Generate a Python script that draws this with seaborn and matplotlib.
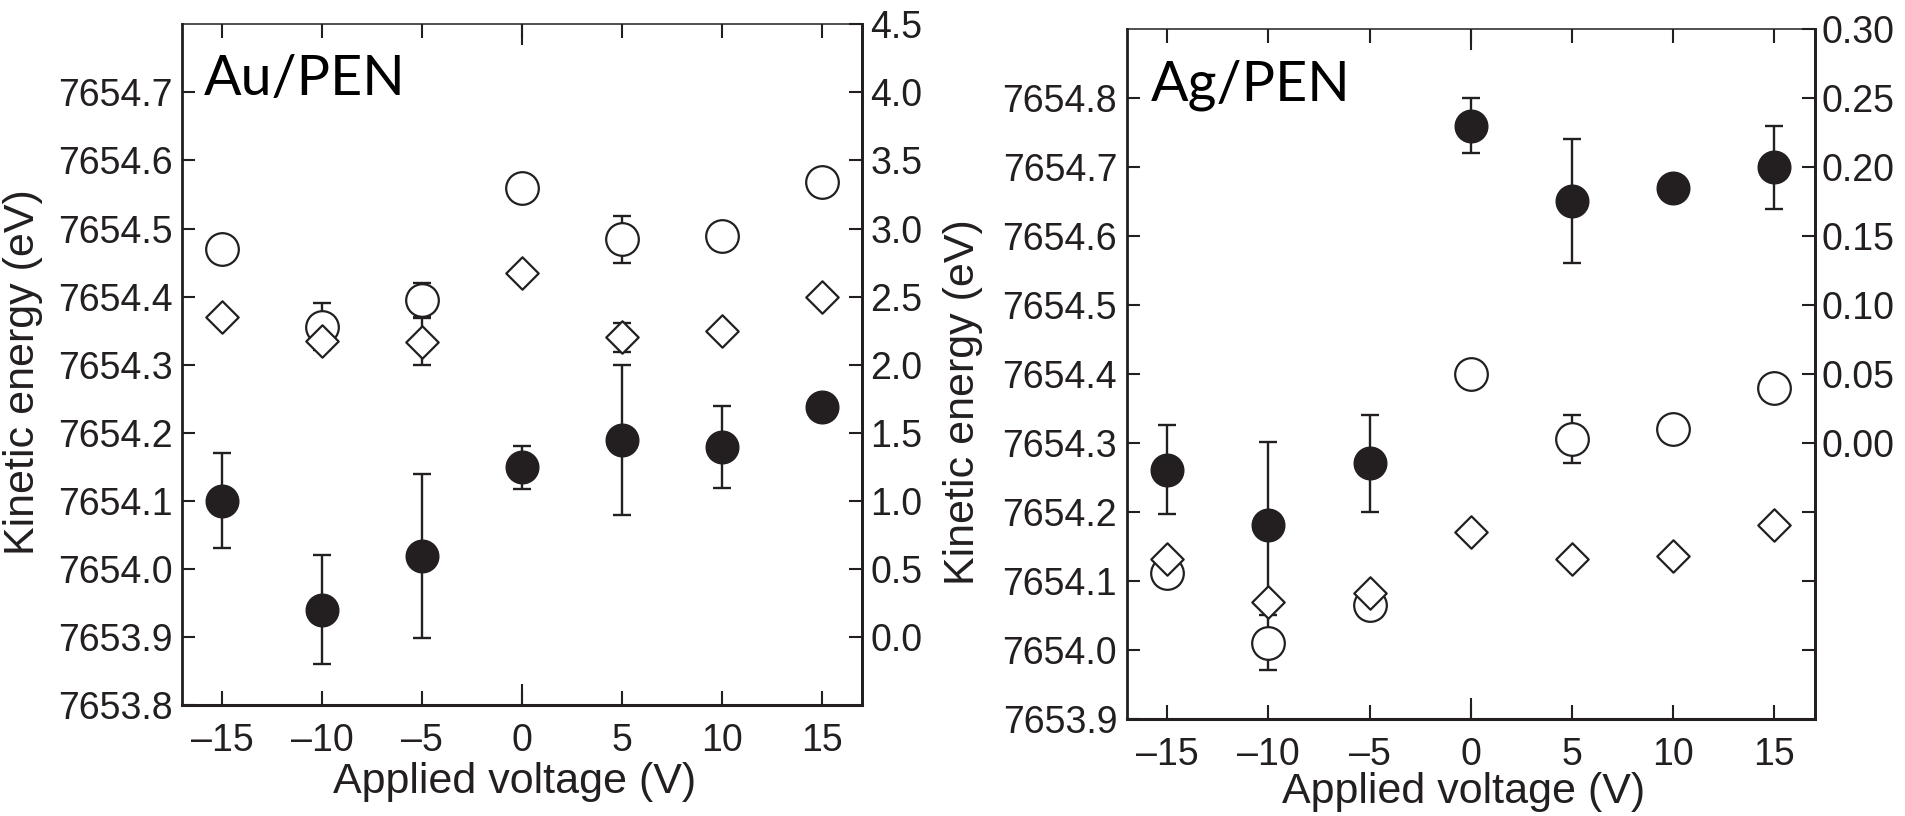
import numpy as np
import pandas as pd
import matplotlib
matplotlib.use("Agg")
import matplotlib.pyplot as plt
import seaborn as sns

# ---------------- data ----------------
voltage = [-15, -10, -5, 0, 5, 10, 15]
voltage_labels = ["\u201315", "\u201310", "\u20135", "0", "5", "10", "15"]

# Au/PEN panel (left axis, eV)
au_open = [7654.470, 7654.356, 7654.395, 7654.559, 7654.484, 7654.489, 7654.569]
au_open_err = [0, 0.034, 0.025, 0, 0.035, 0, 0]
au_diamond = [7654.370, 7654.335, 7654.334, 7654.435, 7654.340, 7654.349, 7654.400]
au_diamond_err = [0, 0, 0.034, 0, 0.021, 0, 0]
au_filled = [7654.100, 7653.940, 7654.019, 7654.149, 7654.189, 7654.179, 7654.238]
au_filled_err = [0.070, 0.080, 0.120, 0.031, 0.110, 0.060, 0]

au_yticks = [7653.8, 7653.9, 7654.0, 7654.1, 7654.2, 7654.3, 7654.4, 7654.5, 7654.6, 7654.7]
au_yticklabels = ["7653.8", "7653.9", "7654.0", "7654.1", "7654.2", "7654.3",
                  "7654.4", "7654.5", "7654.6", "7654.7"]
au_rticks = [0.0, 0.5, 1.0, 1.5, 2.0, 2.5, 3.0, 3.5, 4.0, 4.5]
au_rticklabels = ["0.0", "0.5", "1.0", "1.5", "2.0", "2.5", "3.0", "3.5", "4.0", "4.5"]

# Ag/PEN panel (left axis, eV)
ag_open = [7654.112, 7654.011, 7654.066, 7654.400, 7654.306, 7654.320, 7654.380]
ag_open_err = [0, 0.040, 0, 0, 0.035, 0, 0]
ag_diamond = [7654.132, 7654.070, 7654.083, 7654.171, 7654.132, 7654.137, 7654.181]
ag_diamond_err = [0, 0, 0, 0, 0, 0, 0]
ag_filled = [7654.262, 7654.182, 7654.271, 7654.760, 7654.651, 7654.670, 7654.700]
ag_filled_err = [0.065, 0.120, 0.070, 0.040, 0.090, 0, 0.060]

ag_yticks = [7653.9, 7654.0, 7654.1, 7654.2, 7654.3, 7654.4, 7654.5, 7654.6, 7654.7, 7654.8]
ag_yticklabels = ["7653.9", "7654.0", "7654.1", "7654.2", "7654.3", "7654.4",
                  "7654.5", "7654.6", "7654.7", "7654.8"]
ag_rticks = [-0.15, -0.10, -0.05, 0.00, 0.05, 0.10, 0.15, 0.20, 0.25, 0.30]
ag_rticklabels = ["", "", "", "0.00", "0.05", "0.10", "0.15", "0.20", "0.25", "0.30"]

# ---------------- style ----------------
sns.set_theme(style="white")
plt.rcParams["font.family"] = ["Liberation Sans", "DejaVu Sans"]

INK = "#231f20"
TICK_FS = 27
LABEL_FS = 31
CIRCLE_S = 23.5 ** 2
DIAMOND_S = 16.5 ** 2

fig = plt.figure(figsize=(19.05, 8.16), dpi=100)
ax_au = fig.add_axes([0.0958, 0.1360, 0.3567, 0.8342])
ax_ag = fig.add_axes([0.5914, 0.1185, 0.3613, 0.8456])


def errbars(ax, x, y, e, z):
    x = np.asarray(x, float)
    y = np.asarray(y, float)
    e = np.asarray(e, float)
    m = e > 0
    if m.any():
        ax.errorbar(x[m], y[m], yerr=e[m], fmt="none", ecolor=INK,
                    elinewidth=1.7, capsize=6.5, capthick=1.7, zorder=z)


def panel(ax, open_v, open_e, dia_v, dia_e, fill_v, fill_e,
          ylim, yticks, yticklabels, rlim, rticks, rticklabels,
          name, name_xy, ylabel_xy, xlabel_xy, rpad):
    df = pd.DataFrame({"V": voltage, "open": open_v, "dia": dia_v, "fill": fill_v})

    errbars(ax, voltage, open_v, open_e, 1.5)
    sns.scatterplot(data=df, x="V", y="open", ax=ax, marker="o", s=CIRCLE_S,
                    color="white", edgecolor=INK, linewidth=1.6, zorder=2, legend=False)
    errbars(ax, voltage, fill_v, fill_e, 2.5)
    sns.scatterplot(data=df, x="V", y="fill", ax=ax, marker="o", s=CIRCLE_S,
                    color=INK, edgecolor=INK, linewidth=1.0, zorder=3, legend=False)
    errbars(ax, voltage, dia_v, dia_e, 3.5)
    sns.scatterplot(data=df, x="V", y="dia", ax=ax, marker="D", s=DIAMOND_S,
                    color="white", edgecolor=INK, linewidth=1.6, zorder=4, legend=False)

    ax.set_xlim(-17, 17)
    ax.set_ylim(*ylim)
    ax.set_xticks(voltage)
    ax.set_xticklabels(voltage_labels)
    ax.set_yticks(yticks)
    ax.set_yticklabels(yticklabels)
    ax.set_xticks([0], minor=True)
    ax.xaxis.remove_overlapping_locs = False

    ax.tick_params(axis="x", which="major", direction="in", length=10, width=1.5,
                   top=True, bottom=True, labelsize=TICK_FS, pad=13,
                   color=INK, labelcolor=INK)
    ax.tick_params(axis="x", which="minor", direction="in", length=15, width=1.5,
                   top=True, bottom=True, color=INK)
    ax.tick_params(axis="y", which="major", direction="in", length=9, width=1.5,
                   left=True, right=False, labelsize=TICK_FS, pad=6.8,
                   color=INK, labelcolor=INK)

    for side, lw in (("left", 2.0), ("bottom", 2.2), ("right", 2.0), ("top", 1.1)):
        ax.spines[side].set_visible(True)
        ax.spines[side].set_color(INK)
        ax.spines[side].set_linewidth(lw)

    ax.set_xlabel("Applied voltage (V)", fontsize=LABEL_FS, color=INK)
    ax.xaxis.set_label_coords(*xlabel_xy)
    ax.set_ylabel("Kinetic energy (eV)", fontsize=LABEL_FS, color=INK)
    ax.yaxis.set_label_coords(*ylabel_xy)

    ax.text(name_xy[0], name_xy[1], name, transform=ax.transAxes, fontsize=40,
            family=["Lato", "DejaVu Sans"], ha="left", va="baseline", color="black",
            zorder=6)

    axr = ax.twinx()
    axr.set_ylim(*rlim)
    axr.set_yticks(rticks)
    axr.set_yticklabels(rticklabels)
    axr.tick_params(axis="y", direction="in", length=9.5, width=1.5, right=True,
                    left=False, labelsize=TICK_FS, pad=rpad, color=INK, labelcolor=INK)
    for side in ("left", "top", "bottom"):
        axr.spines[side].set_visible(False)
    axr.spines["right"].set_color(INK)
    axr.spines["right"].set_linewidth(2.0)
    axr.grid(False)
    ax.grid(False)


panel(ax_au, au_open, au_open_err, au_diamond, au_diamond_err, au_filled, au_filled_err,
      (7653.8, 7654.8), au_yticks, au_yticklabels, (-0.5, 4.5), au_rticks, au_rticklabels,
      "Au/PEN", (0.032, 0.896), (-0.205, 0.489), (0.488, -0.084), 5.8)

panel(ax_ag, ag_open, ag_open_err, ag_diamond, ag_diamond_err, ag_filled, ag_filled_err,
      (7653.9, 7654.9), ag_yticks, ag_yticklabels, (-0.2, 0.3), ag_rticks, ag_rticklabels,
      "Ag/PEN", (0.035, 0.8975), (-0.209, 0.46), (0.489, -0.076), 4.5)

fig.savefig("out.png", dpi=100)
